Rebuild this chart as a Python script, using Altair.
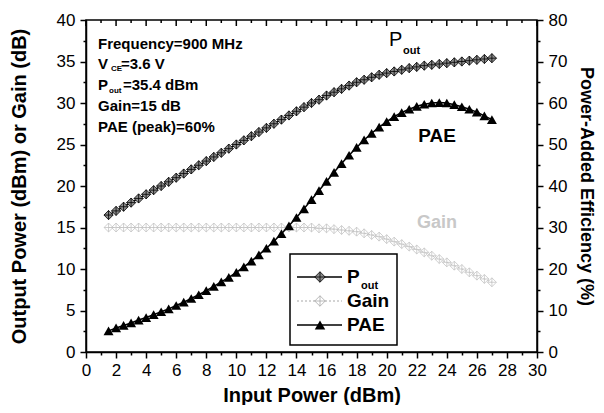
import altair as alt
import pandas as pd

# ---------------- data ----------------
PIN = [1.5, 2.0, 2.5, 3.0, 3.5, 4.0, 4.5, 5.0, 5.5, 6.0, 6.5, 7.0, 7.5, 8.0, 8.5,
       9.0, 9.5, 10.0, 10.5, 11.0, 11.5, 12.0, 12.5, 13.0, 13.5, 14.0, 14.5, 15.0,
       15.5, 16.0, 16.5, 17.0, 17.5, 18.0, 18.5, 19.0, 19.5, 20.0, 20.5, 21.0, 21.5,
       22.0, 22.5, 23.0, 23.5, 24.0, 24.5, 25.0, 25.5, 26.0, 26.5, 27.0]
POUT = [16.5, 17.0, 17.5, 18.0, 18.5, 19.0, 19.5, 20.0, 20.5, 21.0, 21.5, 22.0, 22.5,
        23.0, 23.5, 24.0, 24.5, 25.0, 25.5, 26.0, 26.5, 27.0, 27.5, 28.0, 28.5, 29.0,
        29.5, 30.0, 30.4, 30.9, 31.3, 31.7, 32.1, 32.5, 32.8, 33.1, 33.4, 33.6, 33.8,
        34.0, 34.2, 34.35, 34.5, 34.6, 34.7, 34.8, 34.9, 35.0, 35.1, 35.2, 35.3, 35.4]
GAIN = [15.0, 15.0, 15.0, 15.0, 15.0, 15.0, 15.0, 15.0, 15.0, 15.0, 15.0, 15.0, 15.0,
        15.0, 15.0, 15.0, 15.0, 15.0, 15.0, 15.0, 15.0, 15.0, 15.0, 15.0, 15.0, 15.0,
        15.0, 15.0, 14.9, 14.9, 14.8, 14.7, 14.6, 14.5, 14.3, 14.1, 13.9, 13.6, 13.3,
        13.0, 12.7, 12.35, 12.0, 11.6, 11.2, 10.8, 10.4, 10.0, 9.6, 9.2, 8.8, 8.4]
PAE = [5.1, 5.8, 6.4, 7.0, 7.7, 8.3, 9.0, 9.7, 10.4, 11.2, 12.0, 12.9, 13.8, 14.8,
       15.8, 16.9, 18.0, 19.2, 20.5, 21.9, 23.4, 25.0, 26.7, 28.5, 30.4, 32.4, 34.5,
       36.7, 38.9, 41.1, 43.3, 45.4, 47.4, 49.3, 51.1, 52.7, 54.2, 55.5, 56.7, 57.7,
       58.5, 59.2, 59.7, 60.0, 60.1, 60.0, 59.6, 59.1, 58.5, 57.8, 56.9, 56.0]

X_MAJOR = [0, 2, 4, 6, 8, 10, 12, 14, 16, 18, 20, 22, 24, 26, 28, 30]
X_MINOR = [1, 3, 5, 7, 9, 11, 13, 15, 17, 19, 21, 23, 25, 27, 29]
YL_TICKS = [0, 2.5, 5, 7.5, 10, 12.5, 15, 17.5, 20, 22.5, 25, 27.5, 30, 32.5, 35, 37.5, 40]
YR_TICKS = [0, 5, 10, 15, 20, 25, 30, 35, 40, 45, 50, 55, 60, 65, 70, 75, 80]

df = pd.DataFrame({"pin": PIN, "pout": POUT, "gain": GAIN, "pae": PAE})
ONE = pd.DataFrame({"k": [0]})

FONT = "Liberation Sans"
DIAMOND_X = "M0,-1L1,0L0,1L-1,0Z M0,-1L0,1 M-1,0L1,0"
W, H = 451, 332

x_axis = alt.Axis(
    values=sorted(X_MAJOR + X_MINOR),
    labelExpr="datum.value % 2 == 0 ? datum.label : ''",
    title="Input Power (dBm)", titlePadding=7, titleFontSize=20,
    tickSize={"condition": {"test": "datum.value % 2 !== 0", "value": 3}, "value": 6},
    labelPadding=4, labelOverlap=False, labelFlush=False,
)
yl_axis = alt.Axis(
    values=YL_TICKS,
    labelExpr="datum.value % 5 == 0 ? datum.label : ''",
    title="Output Power (dBm) or Gain (dB)", titlePadding=27, titleFontSize=20,
    tickSize={"condition": {"test": "datum.value % 5 !== 0", "value": 3}, "value": 6},
    labelPadding=5, labelOverlap=False, labelFlush=False,
)
yr_axis = alt.Axis(
    orient="right", values=YR_TICKS,
    labelExpr="datum.value % 10 == 0 ? datum.label : ''",
    title="Power-Added Efficiency (%)", titlePadding=10, titleFontSize=18,
    tickSize={"condition": {"test": "datum.value % 10 !== 0", "value": 3}, "value": 6},
    labelPadding=5, labelOverlap=False, labelFlush=False,
)


def X(field):
    return alt.X(f"{field}:Q", scale=alt.Scale(domain=[0, 30], nice=False), axis=x_axis)


def YL(field):
    return alt.Y(f"{field}:Q", scale=alt.Scale(domain=[0, 40], nice=False), axis=yl_axis)


def YR(field):
    return alt.Y(f"{field}:Q", scale=alt.Scale(domain=[0, 80], nice=False), axis=yr_axis)


def txt(text, x, y, size, weight="bold", color="black", align="left"):
    return alt.Chart(ONE).mark_text(
        font=FONT, fontSize=size, fontWeight=weight, color=color,
        align=align, baseline="middle",
    ).encode(x=alt.value(x), y=alt.value(y), text=alt.value(text))


# ---------------- data layers ----------------
pout_line = alt.Chart(df).mark_line(color="black", strokeWidth=1.5).encode(x=X("pin"), y=YL("pout"))
pout_pts = alt.Chart(df).mark_point(
    shape=DIAMOND_X, fill="#8c8c8c", fillOpacity=1, stroke="black", strokeWidth=0.8,
    size=85, opacity=1,
).encode(x=X("pin"), y=YL("pout"))
gain_line = alt.Chart(df).mark_line(color="#c4c4c4", strokeWidth=1, strokeDash=[2, 2]).encode(
    x=X("pin"), y=YL("gain"))
gain_pts = alt.Chart(df).mark_point(
    shape=DIAMOND_X, stroke="#c4c4c4", strokeWidth=0.8, size=80, opacity=1,
).encode(x=X("pin"), y=YL("gain"))

top_major = alt.Chart(pd.DataFrame({"pin": X_MAJOR})).mark_rule(color="black", strokeWidth=1.5).encode(
    x=X("pin"), y=alt.value(0), y2=alt.value(6))
top_minor = alt.Chart(pd.DataFrame({"pin": X_MINOR})).mark_rule(color="black", strokeWidth=1.5).encode(
    x=X("pin"), y=alt.value(0), y2=alt.value(3))

pae_line = alt.Chart(df).mark_line(color="black", strokeWidth=1.5).encode(x=X("pin"), y=YR("pae"))
pae_pts = alt.Chart(df).mark_point(
    shape="triangle-up", filled=True, color="black", size=100, opacity=1,
).encode(x=X("pin"), y=YR("pae"))

# ---------------- annotations ----------------
notes = [
    txt("Frequency=900 MHz", 12, 24, 15),
    txt("V", 12, 44, 15), txt("CE", 25, 49, 8), txt("=3.6 V", 35, 44, 15),
    txt("P", 12, 65, 15), txt("out", 23, 71, 8), txt("=35.4 dBm", 37, 65, 15),
    txt("Gain=15 dB", 12, 86, 15),
    txt("PAE (peak)=60%", 12, 107, 15),
    txt("P", 303, 20, 20, weight="normal"), txt("out", 317, 31, 11),
    txt("PAE", 351, 116, 19, align="center"),
    txt("Gain", 351, 203, 18, color="#c8c8c8", align="center"),
]

# ---------------- legend ----------------
LX0, LX1, LY0, LY1 = 204, 311, 234, 325
legend_box = alt.Chart(ONE).mark_rect(fill="white", stroke="black", strokeWidth=1.5).encode(
    x=alt.value(LX0), x2=alt.value(LX1), y=alt.value(LY0), y2=alt.value(LY1))
rows = [257, 281, 305]
leg = [legend_box]
leg.append(alt.Chart(ONE).mark_rule(color="black", strokeWidth=1.5).encode(
    x=alt.value(211), x2=alt.value(256), y=alt.value(rows[0])))
leg.append(alt.Chart(ONE).mark_point(shape=DIAMOND_X, fill="#8c8c8c", fillOpacity=1, stroke="black",
                                     strokeWidth=0.8, size=110, opacity=1).encode(
    x=alt.value(234), y=alt.value(rows[0])))
leg.append(alt.Chart(ONE).mark_rule(color="#a8a8a8", strokeWidth=1.2, strokeDash=[2, 2]).encode(
    x=alt.value(211), x2=alt.value(256), y=alt.value(rows[1])))
leg.append(alt.Chart(ONE).mark_point(shape=DIAMOND_X, fill="white", fillOpacity=1, stroke="#a8a8a8",
                                     strokeWidth=0.8, size=110, opacity=1).encode(
    x=alt.value(234), y=alt.value(rows[1])))
leg.append(alt.Chart(ONE).mark_rule(color="black", strokeWidth=1.5).encode(
    x=alt.value(211), x2=alt.value(256), y=alt.value(rows[2])))
leg.append(alt.Chart(ONE).mark_point(shape="triangle-up", filled=True, color="black", size=110,
                                     opacity=1).encode(
    x=alt.value(234), y=alt.value(rows[2])))
leg += [
    txt("P", 261, rows[0], 19), txt("out", 275, rows[0] + 9, 11),
    txt("Gain", 261, rows[1], 19),
    txt("PAE", 261, rows[2], 19),
]

left = alt.layer(top_major, top_minor, gain_line, gain_pts, pout_line, pout_pts, *notes)
right = alt.layer(pae_line, pae_pts, *leg)

chart = alt.layer(left, right).resolve_scale(y="independent").properties(
    width=W, height=H,
    autosize=alt.AutoSizeParams(type="none"),
    padding={"left": 78, "top": 12, "right": 59, "bottom": 53},
).configure_view(stroke="black", strokeWidth=1.5).configure_axis(
    grid=False, domainColor="black", domainWidth=1.5, tickColor="black", tickWidth=1.5,
    labelFont=FONT, labelFontSize=17, labelColor="black",
    titleFont=FONT, titleFontSize=19, titleFontWeight="bold", titleColor="black",
)

chart.save("out.html", embed_options={"renderer": "svg", "actions": False})
